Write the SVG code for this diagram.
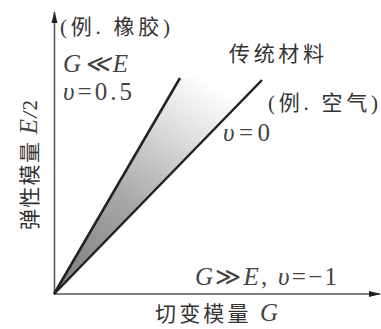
<svg xmlns="http://www.w3.org/2000/svg" width="381" height="329" viewBox="0 0 381 329">
<style>
.cn{font-family:"Liberation Serif","Noto Sans CJK SC",serif;font-size:21px;fill:#333}
.it{font-family:"Liberation Serif",serif;font-style:italic;font-size:25px;fill:#444}
.rm{font-family:"Liberation Serif",serif;font-size:25px;fill:#444}
.ax{stroke:#555;stroke-width:1.5;fill:none}
.ln{stroke:#222;stroke-width:2.5;fill:none}
</style>
<defs>
<linearGradient id="g" x1="54" y1="294" x2="205" y2="78" gradientUnits="userSpaceOnUse">
<stop offset="0" stop-color="#7a7a7a"/>
<stop offset="0.45" stop-color="#a8a8a8"/>
<stop offset="0.8" stop-color="#e2e2e2"/>
<stop offset="1" stop-color="#ffffff"/>
</linearGradient>
<marker id="ar" markerWidth="12" markerHeight="8" refX="11" refY="4" orient="auto" markerUnits="userSpaceOnUse">
<path d="M0,1 L12,4 L0,7 Z" fill="#222"/>
</marker>
</defs>
<g id="fill"><path d="M54,294 L180,78 L262,80 Z" fill="url(#g)"/></g>
<g id="connectors">
<line class="ax" x1="54.5" y1="294" x2="54.5" y2="12" marker-end="url(#ar)"/>
<line class="ax" x1="54" y1="294" x2="380" y2="294" marker-end="url(#ar)"/>
<line class="ln" x1="54" y1="294" x2="180" y2="78"/>
<line class="ln" x1="54" y1="294" x2="262" y2="80"/>
</g>
<g id="labels">
<text class="cn" x="60" y="34" textLength="110" lengthAdjust="spacing">(例. 橡胶)</text>
<text class="it" x="63" y="72" textLength="65" lengthAdjust="spacing">G≪E</text>
<text class="rm" x="63" y="100" textLength="69" lengthAdjust="spacing"><tspan font-style="italic">υ</tspan>=0.5</text>
<text class="cn" x="229" y="61" textLength="95" lengthAdjust="spacing">传统材料</text>
<text class="cn" x="268" y="110" textLength="110" lengthAdjust="spacing">(例. 空气)</text>
<text class="rm" x="223" y="141" textLength="47" lengthAdjust="spacing"><tspan font-style="italic">υ</tspan>=0</text>
<text class="rm" x="195" y="285" font-size="22" textLength="142" lengthAdjust="spacing"><tspan font-style="italic">G</tspan>≫<tspan font-style="italic">E</tspan>, <tspan font-style="italic">υ</tspan>=−1</text>
<text class="cn" x="155" y="321" textLength="123" lengthAdjust="spacing">切变模量 <tspan class="it" font-size="23">G</tspan></text>
<text class="cn" transform="translate(37,165) rotate(-90)" text-anchor="middle" textLength="130" lengthAdjust="spacing">弹性模量 <tspan class="it" font-size="21">E</tspan><tspan font-style="italic" font-size="21">/</tspan><tspan font-size="21">2</tspan></text>
</g>
</svg>
